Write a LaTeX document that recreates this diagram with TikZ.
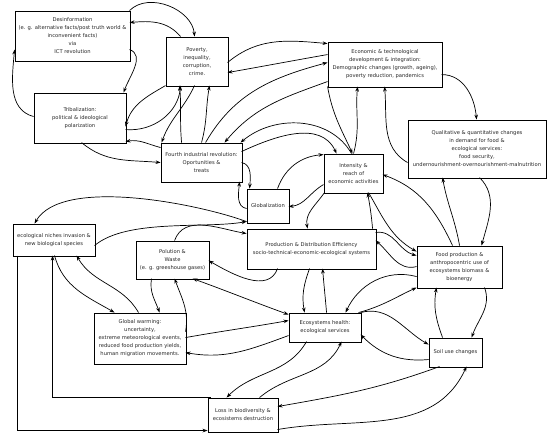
\documentclass[tikz,border=0pt]{standalone}
\usepackage{fontspec}
\newfontfamily\dv{DejaVu Sans}
\usetikzlibrary{arrows.meta}
\begin{document}
\begin{tikzpicture}[x=1pt,y=-1pt,
  box/.style={draw, line width=0.9pt, inner sep=0pt, align=center, font={\dv\fontsize{5.2}{8}\selectfont}, text=black!85},
  arr/.style={line width=0.7pt, -{Stealth[length=5pt,width=3.6pt]}},
  darr/.style={line width=0.7pt, {Stealth[length=5pt,width=3.6pt]}-{Stealth[length=5pt,width=3.6pt]}}]
\useasboundingbox (0,0) rectangle (550,440);
% boxes
\node[box, minimum width=115pt, minimum height=50pt] (D) at (72.5,36) {Desinformation\\(e. g. alternative facts/post truth world \&\\inconvenient facts)\\via\\ICT revolution};
\node[box, minimum width=62pt, minimum height=49pt] (P) at (197,61.5) {Poverty,\\inequality,\\corruption,\\crime.};
\node[box, minimum width=114pt, minimum height=45pt] (E) at (385,64.5) {Economic \& technological\\development \& integration:\\Demographic changes (growth, ageing),\\poverty reduction, pandemics};
\node[box, minimum width=92pt, minimum height=50pt] (T) at (80,118) {Tribalization:\\political \& ideological\\polarization};
\node[box, minimum width=81pt, minimum height=39pt] (F) at (201.5,162.5) {Fourth industrial revolution:\\Oportunities \&\\treats};
\node[box, minimum width=138pt, minimum height=58pt] (Q) at (477,149) {Qualitative \& quantitative changes\\in demand for food \&\\ecological services:\\food security,\\undernourishment-overnourishment-malnutrition};
\node[box, minimum width=59pt, minimum height=39pt] (I) at (353.5,173.5) {Intensity \&\\reach of\\economic activities};
\node[box, minimum width=42pt, minimum height=34pt] (G) at (268,206) {Globalization};
\node[box, minimum width=82pt, minimum height=32pt] (N) at (54,240) {ecological niches invasion \&\\new biological species};
\node[box, minimum width=129pt, minimum height=40pt] (Pr) at (311.5,249) {Production \& Distribution Efficiency\\socio-technical-economic-ecological systems};
\node[box, minimum width=73pt, minimum height=38pt] (Po) at (172.5,260) {Polution \&\\Waste\\(e. g. greeshouse gases)};
\node[box, minimum width=85pt, minimum height=42pt] (Fp) at (459.5,267) {Food production \&\\anthropocentric use of\\ecosystems biomass \&\\bioenergy};
\node[box, minimum width=92pt, minimum height=51pt] (W) at (140,338.5) {Global warming:\\uncertainty,\\extreme meteorological events,\\reduced food production yields,\\human migration movements.};
\node[box, minimum width=72pt, minimum height=29pt] (H) at (325,327.5) {Ecosystems health:\\ecological services};
\node[box, minimum width=53pt, minimum height=29pt] (S) at (455.5,352.5) {Soil use changes};
\node[box, minimum width=70pt, minimum height=34pt] (L) at (243,415) {Loss in biodiversity \&\\ecosistems destruction};
% connectors
\draw[arr] ([shift={(15,0)}]P.north west) to[out=130,in=5] ([shift={(115,12)}]D.north west);
\draw[arr] ([shift={(115,0)}]D.north west) to[out=45,in=95] ([shift={(29,0)}]P.north west);
\draw[arr] ([shift={(115,39)}]D.north west) to[out=-20,in=70] ([shift={(90,0)}]T.north west);
\draw[arr] ([shift={(0,24)}]T.north west) to[out=165,in=-95] ([shift={(0,39)}]D.north west);
\draw[arr] ([shift={(0,49)}]P.north west) to[out=-150,in=75] ([shift={(92,34)}]T.north west);
\draw[arr] ([shift={(92,37)}]T.north west) to[out=-5,in=-95] ([shift={(15,49)}]P.north west);
\draw[arr] ([shift={(29,49)}]P.north west) to[out=-115,in=70] ([shift={(1,0)}]F.north west);
\draw[arr] ([shift={(21,0)}]F.north west) to[out=95,in=-85] ([shift={(14,49)}]P.north west);
\draw[arr] ([shift={(41,0)}]F.north west) to[out=75,in=-100] ([shift={(44,49)}]P.north west);
\draw[arr] ([shift={(62,26)}]P.north west) to[out=40,in=175] ([shift={(0,2)}]E.north west);
\draw[arr] ([shift={(0,13)}]E.north west) to[out=190,in=10] ([shift={(62,36)}]P.north west);
\draw[arr] ([shift={(45,0)}]F.north west) to[out=60,in=195] ([shift={(0,21)}]E.north west);
\draw[arr] ([shift={(0,40)}]E.north west) to[out=200,in=50] ([shift={(64,0)}]F.north west);
\draw[arr] ([shift={(28,0)}]I.north west) to[out=120,in=40] ([shift={(80,0)}]F.north west);
\draw[arr] ([shift={(81,9)}]F.north west) to[out=25,in=115] ([shift={(13,0)}]I.north west);
\draw[arr] ([shift={(0,45)}]E.north west) to[out=-80,in=115] ([shift={(29,0)}]I.north west);
\draw[arr] ([shift={(30,0)}]I.north west) to[out=75,in=-95] ([shift={(30,45)}]E.north west);
\draw[arr] ([shift={(114,33)}]E.north west) to[out=0,in=95] ([shift={(69,0)}]Q.north west);
\draw[arr] ([shift={(0,43)}]Q.north west) to[out=150,in=-85] ([shift={(57,45)}]E.north west);
\draw[arr] ([shift={(72,58)}]Q.north west) to[out=-45,in=75] ([shift={(65,0)}]Fp.north west);
\draw[arr] ([shift={(43,0)}]Fp.north west) to[out=100,in=-80] ([shift={(35,58)}]Q.north west);
\draw[arr] ([shift={(36,0)}]Fp.north west) to[out=115,in=-20] ([shift={(59,21)}]I.north west);
\draw[arr] ([shift={(45,39)}]I.north west) to[out=-60,in=150] ([shift={(0,6)}]Fp.north west);
\draw[arr] ([shift={(126,0)}]Pr.north west) to[out=95,in=-80] ([shift={(44,39)}]I.north west);
\draw[arr] ([shift={(129,4)}]Pr.north west) to[out=10,in=165] ([shift={(0,10)}]Fp.north west);
\draw[arr] ([shift={(0,21)}]Fp.north west) to[out=195,in=-40] ([shift={(129,12)}]Pr.north west);
\draw[arr] ([shift={(0,31)}]Fp.north west) to[out=165,in=65] ([shift={(57,0)}]H.north west);
\draw[arr] ([shift={(70,0)}]H.north west) to[out=15,in=205] ([shift={(0,42)}]Fp.north west);
\draw[arr] ([shift={(68,42)}]Fp.north west) to[out=-70,in=70] ([shift={(43,0)}]S.north west);
\draw[arr] ([shift={(14,0)}]S.north west) to[out=110,in=-100] ([shift={(20,42)}]Fp.north west);
\draw[arr] ([shift={(72,0)}]H.north west) to[out=15,in=150] ([shift={(0,7)}]S.north west);
\draw[arr] ([shift={(0,22)}]S.north west) to[out=185,in=-45] ([shift={(72,22)}]H.north west);
\draw[arr] ([shift={(11,29)}]S.north west) to[out=-160,in=10] ([shift={(70,9)}]L.north west);
\draw[arr] ([shift={(70,32)}]L.north west) to[out=10,in=-115] ([shift={(38,29)}]S.north west);
\draw[arr] ([shift={(18,29)}]H.north west) to[out=-120,in=45] ([shift={(19,0)}]L.north west);
\draw[arr] ([shift={(52,0)}]L.north west) to[out=40,in=-115] ([shift={(53,29)}]H.north west);
\draw[arr] ([shift={(63,40)}]Pr.north west) to[out=-110,in=100] ([shift={(16,0)}]H.north west);
\draw[arr] ([shift={(38,0)}]H.north west) to[out=95,in=-85] ([shift={(76,40)}]Pr.north west);
\draw[darr] ([shift={(57,38)}]Po.north west) to[out=-20,in=160] ([shift={(0,2)}]H.north west);
\draw[arr] ([shift={(92,25)}]W.north west) to[out=10,in=190] ([shift={(0,8)}]H.north west);
\draw[arr] ([shift={(0,23)}]H.north west) to[out=200,in=-10] ([shift={(92,40)}]W.north west);
\draw[arr] ([shift={(92,19)}]W.north west) to[out=80,in=-70] ([shift={(39,38)}]Po.north west);
\draw[arr] ([shift={(16,38)}]Po.north west) to[out=-100,in=110] ([shift={(66,0)}]W.north west);
\draw[arr] ([shift={(31,40)}]Pr.north west) to[out=-110,in=-30] ([shift={(73,20)}]Po.north west);
\draw[arr] ([shift={(39,0)}]Po.north west) to[out=70,in=170] ([shift={(0,5)}]Pr.north west);
\draw[arr] ([shift={(42,32)}]N.north west) to[out=-75,in=150] ([shift={(21,0)}]W.north west);
\draw[arr] ([shift={(45,0)}]W.north west) to[out=120,in=-60] ([shift={(64,32)}]N.north west);
\draw[arr] ([shift={(3,0)}]L.north west) -| ([shift={(40,32)}]N.north west);
\draw[arr] ([shift={(5,32)}]N.north west) |- ([shift={(0,33)}]L.north west);
\draw[arr] ([shift={(0,33)}]G.north west) to[out=160,in=60,looseness=0.65] ([shift={(22,0)}]N.north west);
\draw[arr] ([shift={(82,22)}]N.north west) to[out=40,in=190,looseness=0.7] ([shift={(0,33)}]G.north west);
\draw[arr] ([shift={(81,20)}]F.north west) to[out=-10,in=85] ([shift={(3,0)}]G.north west);
\draw[arr] ([shift={(0,20)}]G.north west) to[out=170,in=-95] ([shift={(79,39)}]F.north west);
\draw[arr] ([shift={(31,0)}]G.north west) to[out=70,in=185] ([shift={(0,1)}]I.north west);
\draw[arr] ([shift={(0,31)}]I.north west) to[out=-150,in=5] ([shift={(42,18)}]G.north west);
\draw[arr] ([shift={(1,39)}]I.north west) to[out=-125,in=100] ([shift={(61,0)}]Pr.north west);
\draw[arr] ([shift={(48,50)}]T.north west) to[out=-40,in=175] ([shift={(0,20)}]F.north west);
\draw[arr] ([shift={(0,5)}]F.north west) to[out=165,in=10] ([shift={(92,49)}]T.north west);
\end{tikzpicture}
\end{document}
